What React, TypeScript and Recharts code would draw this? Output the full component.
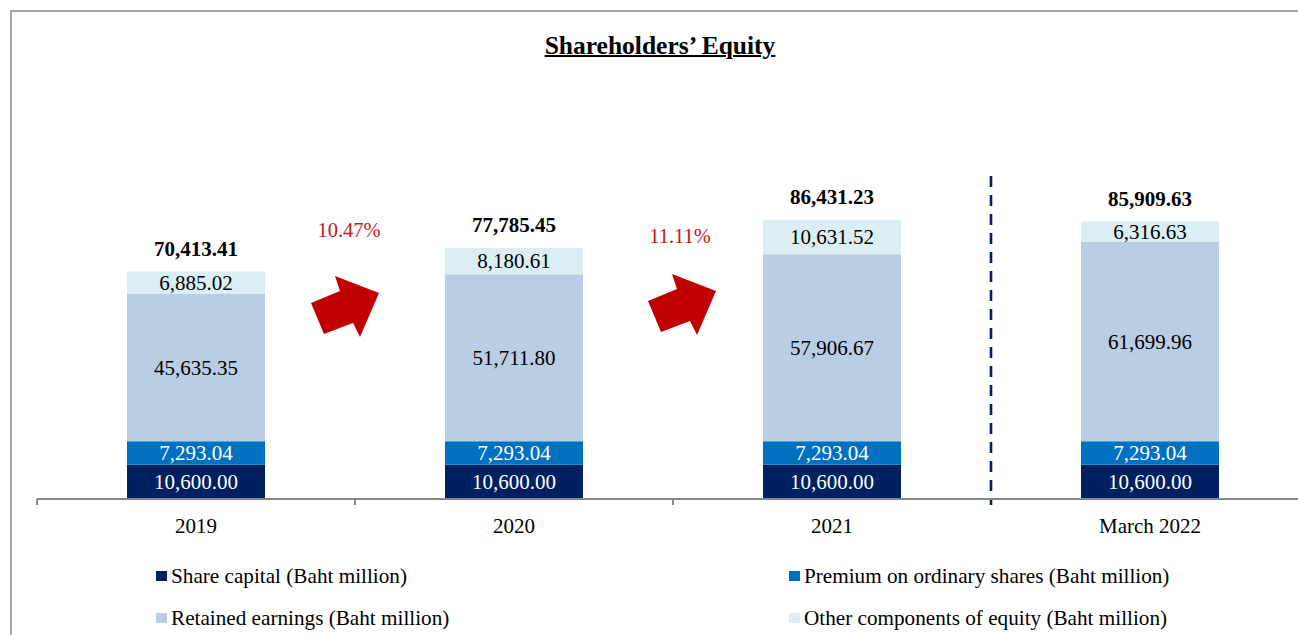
import React from 'react';
import { BarChart, Bar, XAxis, YAxis, LabelList, ReferenceLine, Legend } from 'recharts';

// ---------- data ----------
const CATEGORIES = ['2019', '2020', '2021', 'March 2022'];
const SHARE_CAPITAL = [10600.0, 10600.0, 10600.0, 10600.0];
const PREMIUM = [7293.04, 7293.04, 7293.04, 7293.04];
const RETAINED = [45635.35, 51711.8, 57906.67, 61699.96];
const OTHER = [6885.02, 8180.61, 10631.52, 6316.63];
const TOTALS = [70413.41, 77785.45, 86431.23, 85909.63];

const SERIES_KEYS = ['share', 'premium', 'retained', 'other'];
const SERIES_NAMES = [
  'Share capital (Baht million)',
  'Premium on ordinary shares (Baht million)',
  'Retained earnings (Baht million)',
  'Other components of equity (Baht million)',
];

const GROWTH_AT = ['2020', '2021']; // boundary before these categories
const GROWTH_LABELS = ['10.47%', '11.11%'];
const SEPARATOR_AT = 'March 2022';

// ---------- styles ----------
const FONT = '"Liberation Serif", "Times New Roman", Times, serif';
const SERIES_COLORS = ['#002060', '#0070C0', '#B9CDE5', '#DBEEF4'];
const LABEL_COLORS = ['#FFFFFF', '#FFFFFF', '#000000', '#000000'];
const ARROW_SHAPE = [
  [-44, 127], [-15, 115], [-20, 100], [24, 117], [5, 161], [-2, 147], [-31, 158],
];
const GROWTH_STYLE = [
  { arrowDx: 0, arrowDy: 0, textDx: -6, textDy: 61 },
  { arrowDx: 19, arrowDy: -2, textDx: 7, textDy: 67 },
];
const LEGEND_X = [156, 789];
const LEGEND_ROW_TOP = [9, 51];

const data = CATEGORIES.map((c, i) => ({
  category: c,
  share: SHARE_CAPITAL[i],
  premium: PREMIUM[i],
  retained: RETAINED[i],
  other: OTHER[i],
  total: TOTALS[i],
}));

const fmt = (v: any) =>
  Number(v).toLocaleString('en-US', { minimumFractionDigits: 2, maximumFractionDigits: 2 });

const growthShape = (label: string, st: any) => (props: any) => {
  const x = Number(props.x1);
  const y = Math.min(Number(props.y1), Number(props.y2));
  const pts = ARROW_SHAPE.map(([px, py]) => `${x + px + st.arrowDx},${y + py + st.arrowDy}`).join(' ');
  return (
    <g>
      <text x={x + st.textDx} y={y + st.textDy} textAnchor="middle" fill="#C8161D" fontSize={20.5} fontFamily={FONT}>
        {label}
      </text>
      <polygon points={pts} fill="#C00000" />
    </g>
  );
};

const tickShape = (props: any) => {
  const x = Number(props.x1);
  const yb = Math.max(Number(props.y1), Number(props.y2));
  return <line x1={x} x2={x} y1={yb} y2={yb + 6} stroke="#878787" strokeWidth={2} />;
};

const separatorShape = (props: any) => {
  const x = Number(props.x1);
  const yt = Math.min(Number(props.y1), Number(props.y2));
  const yb = Math.max(Number(props.y1), Number(props.y2));
  return <line x1={x} x2={x} y1={yt} y2={yb + 6} stroke="#002060" strokeWidth={2.6} strokeDasharray="11 8" />;
};

const renderLegend = () => (
  <div style={{ position: 'relative', width: 1298, height: 80 }}>
    {SERIES_NAMES.map((name, i) => (
      <div
        key={name}
        style={{
          position: 'absolute',
          left: LEGEND_X[i % 2],
          top: LEGEND_ROW_TOP[Math.floor(i / 2)],
          height: 24,
          display: 'flex',
          alignItems: 'center',
          fontFamily: FONT,
          fontSize: 21.2,
          color: '#000',
          whiteSpace: 'nowrap',
        }}
      >
        <span style={{ display: 'inline-block', width: 11, height: 10, background: SERIES_COLORS[i], marginRight: 4 }} />
        <span>{name}</span>
      </div>
    ))}
  </div>
);

export default function App() {
  return (
    <div style={{ position: 'absolute', left: 0, top: 0, width: 1298, height: 635, overflow: 'hidden', background: '#fff' }}>
      <div
        style={{
          position: 'absolute',
          left: 10,
          top: 10,
          width: 1400,
          height: 700,
          border: '2px solid #A6A6A6',
          boxSizing: 'border-box',
        }}
      />
      <div
        style={{
          position: 'absolute',
          left: 0,
          top: 33,
          width: 1320,
          textAlign: 'center',
          fontFamily: FONT,
          fontWeight: 'bold',
          fontSize: 25.5,
          lineHeight: '26px',
          textDecoration: 'underline',
          textDecorationThickness: '2px',
          color: '#000',
        }}
      >
        Shareholders’ Equity
      </div>
      <div style={{ position: 'absolute', left: 0, top: 0 }}>
        <BarChart
          width={1330}
          height={635}
          data={data}
          margin={{ top: 176, right: 21, left: 37, bottom: 106 }}
        >
          <YAxis hide domain={[0, 100000]} />
          <XAxis
            dataKey="category"
            height={30}
            axisLine={{ stroke: '#878787', strokeWidth: 2 }}
            tickLine={false}
            tickMargin={13}
            tick={{ fill: '#000', fontSize: 21, fontFamily: FONT }}
          />
          {SERIES_KEYS.map((k, i) => (
            <Bar
              key={k}
              dataKey={k}
              name={SERIES_NAMES[i]}
              stackId="eq"
              fill={SERIES_COLORS[i]}
              barSize={138}
              isAnimationActive={false}
            >
              <LabelList
                dataKey={k}
                position="center"
                fill={LABEL_COLORS[i]}
                fontSize={21}
                fontFamily={FONT}
                formatter={fmt}
              />
              {k === 'other' ? (
                <LabelList
                  dataKey="total"
                  position="top"
                  offset={16}
                  fill="#000"
                  fontSize={21}
                  fontWeight="bold"
                  fontFamily={FONT}
                  formatter={fmt}
                />
              ) : null}
            </Bar>
          ))}
          {CATEGORIES.map((c) => (
            <ReferenceLine key={'t' + c} x={c} position="start" shape={tickShape} />
          ))}
          <ReferenceLine x={SEPARATOR_AT} position="start" shape={separatorShape} />
          {GROWTH_AT.map((c, i) => (
            <ReferenceLine key={'g' + c} x={c} position="start" shape={growthShape(GROWTH_LABELS[i], GROWTH_STYLE[i])} />
          ))}
          <Legend
            layout="horizontal"
            verticalAlign="middle"
            align="center"
            wrapperStyle={{ left: 0, top: 555, width: 1298, height: 80 }}
            content={renderLegend}
          />
        </BarChart>
      </div>
    </div>
  );
}
